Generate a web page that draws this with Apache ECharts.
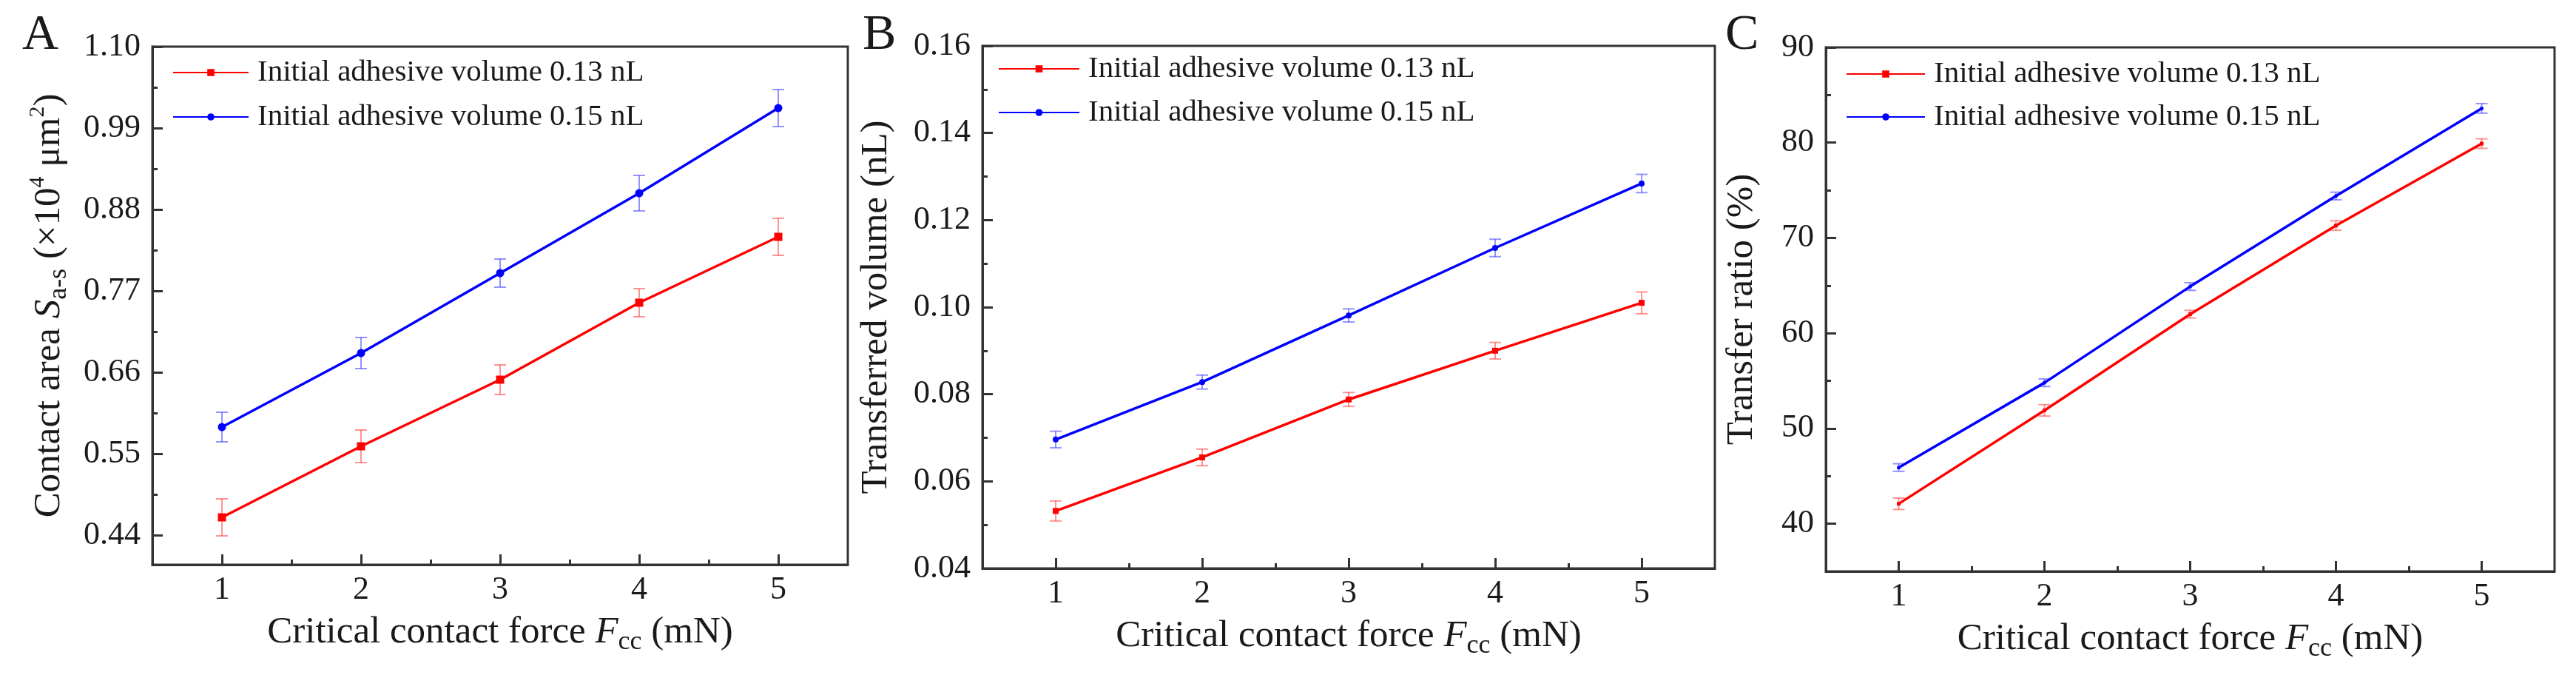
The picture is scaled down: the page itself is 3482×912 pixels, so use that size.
<!DOCTYPE html>
<html>
<head>
<meta charset="utf-8">
<title>Critical contact force</title>
<script src="https://cdn.jsdelivr.net/npm/echarts@6/dist/echarts.min.js"></script>
<style>
  html, body { margin: 0; padding: 0; background: #fff; }
  #chart { width: 3482px; height: 912px; }
</style>
</head>
<body>
<div id="chart"></div>
<script>
// x values (critical contact force, mN)
var forceMN = [1, 2, 3, 4, 5];
var forceTicks = [1, 2, 3, 4, 5];

// A: contact area (x10^4 um^2)
var areaRed = [0.464, 0.560, 0.650, 0.754, 0.843];
var areaRedErr = [0.025, 0.022, 0.020, 0.019, 0.025];
var areaBlue = [0.586, 0.686, 0.794, 0.902, 1.017];
var areaBlueErr = [0.020, 0.021, 0.019, 0.024, 0.025];
var areaTicks = [0.44, 0.55, 0.66, 0.77, 0.88, 0.99, 1.10];

// B: transferred volume (nL)
var volRed = [0.0532, 0.0655, 0.0788, 0.0900, 0.1010];
var volRedErr = [0.0023, 0.0019, 0.0016, 0.0019, 0.0025];
var volBlue = [0.0696, 0.0828, 0.0981, 0.1136, 0.1284];
var volBlueErr = [0.0019, 0.0016, 0.0015, 0.0020, 0.0021];
var volTicks = [0.04, 0.06, 0.08, 0.10, 0.12, 0.14, 0.16];

// C: transfer ratio (%)
var ratioRed = [42.1, 51.9, 62.0, 71.3, 79.9];
var ratioRedErr = [0.6, 0.6, 0.4, 0.5, 0.5];
var ratioBlue = [45.9, 54.8, 64.9, 74.4, 83.6];
var ratioBlueErr = [0.4, 0.4, 0.4, 0.4, 0.5];
var ratioTicks = [40, 50, 60, 70, 80, 90];

var seriesNames = ['Initial adhesive volume 0.13 nL', 'Initial adhesive volume 0.15 nL'];

var FONT = 'Liberation Serif';
var INK = '#1a1a1a';
var AXIS = '#333333';

// midpoints between major ticks -> minor ticks
function halfTicks(t) {
  var out = [];
  for (var i = 0; i < t.length - 1; i++) out.push((t[i] + t[i + 1]) / 2);
  return out;
}

function pairs(xs, ys) {
  return xs.map(function (x, i) { return [x, ys[i]]; });
}
function errRows(xs, ys, es) {
  return xs.map(function (x, i) { return [x, ys[i] - es[i], ys[i] + es[i]]; });
}

function errorBarSeries(idx, rows, color, cap) {
  return {
    type: 'custom',
    xAxisIndex: idx * 2,
    yAxisIndex: idx * 2,
    z: 1,
    silent: true,
    data: rows,
    encode: { x: 0, y: [1, 2] },
    renderItem: function (params, api) {
      var x = api.value(0);
      var lo = api.coord([x, api.value(1)]);
      var hi = api.coord([x, api.value(2)]);
      var st = { stroke: color, lineWidth: 2 };
      return {
        type: 'group',
        children: [
          { type: 'line', shape: { x1: lo[0], y1: lo[1], x2: hi[0], y2: hi[1] }, style: st },
          { type: 'line', shape: { x1: lo[0] - cap, y1: lo[1], x2: lo[0] + cap, y2: lo[1] }, style: st },
          { type: 'line', shape: { x1: hi[0] - cap, y1: hi[1], x2: hi[0] + cap, y2: hi[1] }, style: st }
        ]
      };
    }
  };
}

function lineSeries(idx, name, data, color, symbol, size) {
  return {
    name: name + '#' + idx,
    type: 'line',
    xAxisIndex: idx * 2,
    yAxisIndex: idx * 2,
    z: 3,
    data: data,
    symbol: symbol,
    symbolSize: size,
    showSymbol: true,
    lineStyle: { color: color, width: 3.5 },
    itemStyle: { color: color },
    animation: false
  };
}

var panels = [
  {
    grid: { left: 206, top: 63, width: 940, height: 700 },
    yMin: 0.40, yMax: 1.10, yTicks: areaTicks, digits: 2,
    yName: '{n|Contact area }{i|S}{sub|a-s}{n| (×10}{sup|4}{n| μm}{sup|2}{n|)}',
    yGap: 108,
    red: areaRed, redErr: areaRedErr, blue: areaBlue, blueErr: areaBlueErr,
    size: 11, legend: { left: 233, top: 74, itemWidth: 102, itemGap: 12 },
    label: 'A', labelLeft: 30
  },
  {
    grid: { left: 1328, top: 62, width: 990, height: 706 },
    yMin: 0.04, yMax: 0.16, yTicks: volTicks, digits: 2,
    yName: '{n|Transferred volume (nL)}',
    yGap: 112,
    red: volRed, redErr: volRedErr, blue: volBlue, blueErr: volBlueErr,
    size: 8, legend: { left: 1349, top: 69, itemWidth: 109, itemGap: 11 },
    label: 'B', labelLeft: 1166
  },
  {
    grid: { left: 2468, top: 64, width: 985, height: 708 },
    yMin: 35, yMax: 90, yTicks: ratioTicks, digits: 0,
    yName: '{n|Transfer ratio (%)}',
    yGap: 82,
    red: ratioRed, redErr: ratioRedErr, blue: ratioBlue, blueErr: ratioBlueErr,
    size: 5, legend: { left: 2495, top: 76, itemWidth: 106, itemGap: 10 },
    label: 'C', labelLeft: 2332
  }
];

var nameRich = {
  n: { fontFamily: FONT, fontSize: 51, color: INK, lineHeight: 62 },
  i: { fontFamily: FONT, fontSize: 51, color: INK, fontStyle: 'italic', lineHeight: 62 },
  sub: { fontFamily: FONT, fontSize: 36, color: INK, lineHeight: 36, verticalAlign: 'bottom' },
  sup: { fontFamily: FONT, fontSize: 30, color: INK, lineHeight: 30, verticalAlign: 'top' }
};

var grids = [], xAxes = [], yAxes = [], series = [], legends = [], titles = [];

panels.forEach(function (p, k) {
  grids.push({
    left: p.grid.left, top: p.grid.top, width: p.grid.width, height: p.grid.height,
    show: true, borderColor: AXIS, borderWidth: 3, backgroundColor: 'transparent'
  });

  // main x axis
  xAxes.push({
    type: 'value', gridIndex: k, min: 0.5, max: 5.5, position: 'bottom',
    axisLine: { show: true, lineStyle: { color: AXIS, width: 3 } },
    axisTick: { show: true, inside: true, length: 14, customValues: forceTicks, lineStyle: { color: AXIS, width: 3 } },
    axisLabel: { customValues: forceTicks, margin: 12, fontFamily: FONT, fontSize: 44, color: INK },
    splitLine: { show: false },
    name: 'Critical contact force {i|F}{sub|cc} (mN)',
    nameLocation: 'middle', nameGap: 60,
    nameTextStyle: { fontFamily: FONT, fontSize: 51, color: INK, lineHeight: 62, rich: nameRich }
  });
  // minor x ticks
  xAxes.push({
    type: 'value', gridIndex: k, min: 0.5, max: 5.5, position: 'bottom',
    axisLine: { show: false },
    axisTick: { show: true, inside: true, length: 7, customValues: halfTicks(forceTicks), lineStyle: { color: AXIS, width: 3 } },
    axisLabel: { show: false },
    splitLine: { show: false }
  });

  yAxes.push({
    type: 'value', gridIndex: k, min: p.yMin, max: p.yMax, position: 'left',
    axisLine: { show: true, lineStyle: { color: AXIS, width: 3 } },
    axisTick: { show: true, inside: true, length: 14, customValues: p.yTicks, lineStyle: { color: AXIS, width: 3 } },
    axisLabel: {
      customValues: p.yTicks, margin: 16, fontFamily: FONT, fontSize: 44, color: INK,
      formatter: (function (d) { return function (v) { return v.toFixed(d); }; })(p.digits)
    },
    splitLine: { show: false },
    name: p.yName,
    nameLocation: 'middle', nameGap: p.yGap, nameRotate: 90,
    nameTextStyle: { fontFamily: FONT, fontSize: 51, color: INK, rich: nameRich }
  });
  yAxes.push({
    type: 'value', gridIndex: k, min: p.yMin, max: p.yMax, position: 'left',
    axisLine: { show: false },
    axisTick: { show: true, inside: true, length: 7, customValues: halfTicks(p.yTicks), lineStyle: { color: AXIS, width: 3 } },
    axisLabel: { show: false },
    splitLine: { show: false }
  });

  series.push(errorBarSeries(k, errRows(forceMN, p.red, p.redErr), 'rgba(255,60,60,0.55)', 8));
  series.push(errorBarSeries(k, errRows(forceMN, p.blue, p.blueErr), 'rgba(60,60,255,0.55)', 8));
  series.push(lineSeries(k, seriesNames[0], pairs(forceMN, p.red), '#ff0000', 'rect', p.size));
  series.push(lineSeries(k, seriesNames[1], pairs(forceMN, p.blue), '#0000ff', 'circle', p.size));

  legends.push({
    data: [seriesNames[0] + '#' + k, seriesNames[1] + '#' + k],
    orient: 'vertical',
    left: p.legend.left, top: p.legend.top,
    itemWidth: p.legend.itemWidth, itemHeight: 12, itemGap: p.legend.itemGap,
    padding: 0, selectedMode: false,
    formatter: function (name) { return name.split('#')[0]; },
    textStyle: { fontFamily: FONT, fontSize: 41, color: INK, lineHeight: 48, padding: [0, 0, 0, 7] }
  });

  titles.push({
    text: p.label, left: p.labelLeft, top: 14, padding: 0,
    textStyle: { fontFamily: FONT, fontSize: 68, fontWeight: 'normal', color: INK }
  });
});

var chart = echarts.init(document.getElementById('chart'), null, { renderer: 'canvas' });
chart.setOption({
  backgroundColor: '#ffffff',
  animation: false,
  title: titles,
  legend: legends,
  grid: grids,
  xAxis: xAxes,
  yAxis: yAxes,
  series: series
});
</script>
</body>
</html>
